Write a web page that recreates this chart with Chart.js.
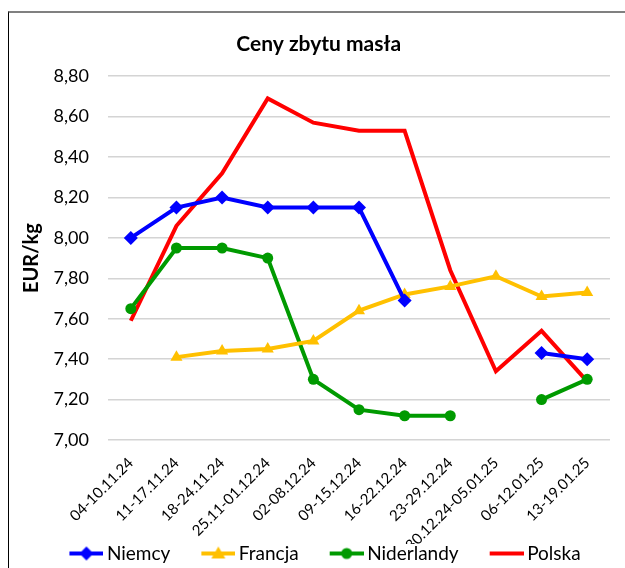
<!DOCTYPE html>
<html>
<head>
<meta charset="utf-8">
<script src="https://cdn.jsdelivr.net/npm/chart.js@4.4.1/dist/chart.umd.min.js"></script>
<style>
  body { margin: 0; background: #fff; }
  #frame { position: absolute; left: 8px; top: 11px; width: 617px; height: 557px;
           border-left: 1px solid #000; border-top: 2px solid #808080; box-sizing: border-box; }
  #myChart { position: absolute; left: 0; top: 0; }
</style>
</head>
<body>
<div id="frame"></div>
<canvas id="myChart" width="625" height="568"></canvas>
<script>
const weeks = [
    '04-10.11.24',
    '11-17.11.24',
    '18-24.11.24',
    '25.11-01.12.24',
    '02-08.12.24',
    '09-15.12.24',
    '16-22.12.24',
    '23-29.12.24',
    '30.12.24-05.01.25',
    '06-12.01.25',
    '13-19.01.25'
];
const niemcy = [8.00, 8.15, 8.20, 8.15, 8.15, 8.15, 7.69, null, null, 7.43, 7.40];
const francja = [null, 7.41, 7.44, 7.45, 7.49, 7.64, 7.72, 7.76, 7.81, 7.71, 7.73];
const niderlandy = [7.65, 7.95, 7.95, 7.90, 7.30, 7.15, 7.12, 7.12, null, 7.20, 7.30];
const polska = [7.59, 8.06, 8.32, 8.69, 8.57, 8.53, 8.53, 7.84, 7.34, 7.54, 7.29];

const fontName = 'Lato';

// little picture for the legend: line with the marker in the middle
// (left part of the canvas stays empty, it makes the gap between items)
function legendIcon(color, marker){
    const c = document.createElement('canvas');
    c.width = 71;
    c.height = 18;
    const g = c.getContext('2d');
    g.strokeStyle = color;
    g.fillStyle = color;
    g.lineWidth = 4;
    g.beginPath();
    g.moveTo(37, 9);
    g.lineTo(71, 9);
    g.stroke();
    const cx = 54, cy = 9;
    g.beginPath();
    if (marker === 'rectRot') {
        g.moveTo(cx, cy - 7); g.lineTo(cx + 7, cy); g.lineTo(cx, cy + 7); g.lineTo(cx - 7, cy);
        g.closePath(); g.fill();
    } else if (marker === 'triangle') {
        g.moveTo(cx, cy - 7); g.lineTo(cx + 7, cy + 5); g.lineTo(cx - 7, cy + 5);
        g.closePath(); g.fill();
    } else if (marker === 'circle') {
        g.arc(cx, cy, 5.5, 0, Math.PI * 2); g.fill();
    }
    return c;
}

const series = [
    {label: 'Niemcy', data: niemcy, color: '#0000ff', marker: 'rectRot', radius: 7},
    {label: 'Francja', data: francja, color: '#ffc000', marker: 'triangle', radius: 7},
    {label: 'Niderlandy', data: niderlandy, color: '#009a00', marker: 'circle', radius: 5.5},
    {label: 'Polska', data: polska, color: '#ff0000', marker: false, radius: 0}
];

const data = {
    labels: weeks,
    datasets: series.map(s => ({
        label: s.label,
        data: s.data,
        borderColor: s.color,
        backgroundColor: s.color,
        borderWidth: 4,
        pointStyle: s.marker || 'circle',
        pointRadius: s.radius,
        pointBorderWidth: 0,
        tension: 0,
        spanGaps: false
    }))
};

const config = {
    type: 'line',
    data: data,
    options: {
        responsive: false,
        animation: false,
        layout: {padding: {top: 13, left: 9, right: 15, bottom: 0}},
        plugins: {
            title: {
                display: true,
                text: '\u2003\u2009Ceny zbytu masła',
                color: '#000',
                font: {family: fontName, size: 21, weight: 'bold'},
                padding: {top: 19, bottom: 19}
            },
            legend: {
                position: 'bottom',
                maxHeight: 24,
                labels: {
                    usePointStyle: true,
                    pointStyleWidth: 59,
                    padding: 0,
                    color: '#000',
                    font: {family: fontName, size: 19},
                    generateLabels: chart => series.map((s, i) => ({
                        text: s.label,
                        pointStyle: legendIcon(s.color, s.marker),
                        fillStyle: s.color,
                        strokeStyle: s.color,
                        lineWidth: 0,
                        fontColor: '#000',
                        datasetIndex: i
                    }))
                }
            },
            tooltip: {enabled: false}
        },
        scales: {
            x: {
                offset: true,
                grid: {display: false},
                border: {display: false},
                ticks: {
                    minRotation: 45,
                    maxRotation: 45,
                    padding: 6,
                    color: '#000',
                    font: {family: fontName, size: 15}
                },
                afterFit: scale => { scale.height = 104; }
            },
            y: {
                min: 7,
                max: 8.8,
                border: {display: false},
                grid: {color: '#d4d4d4', lineWidth: 1.5, drawTicks: false},
                ticks: {
                    stepSize: 0.2,
                    padding: 19,
                    color: '#000',
                    font: {family: fontName, size: 18},
                    callback: v => v.toFixed(2).replace('.', ',')
                },
                title: {
                    display: true,
                    text: 'EUR/kg',
                    color: '#000',
                    font: {family: fontName, size: 20, weight: 'bold'},
                    padding: {top: 11}
                },
                afterFit: scale => { scale.width = 99; }
            }
        }
    }
};

new Chart(document.getElementById('myChart'), config);
</script>
</body>
</html>
